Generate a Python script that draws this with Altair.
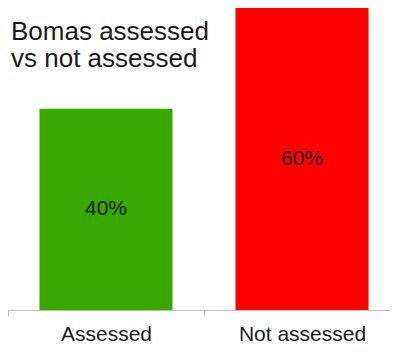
import altair as alt
import pandas as pd

categories = ["Assessed", "Not assessed"]
values = [40, 60]
labels = ["40%", "60%"]
colors = ["#38A800", "#FF0000"]
title_lines = "Bomas assessed\nvs not assessed"

df = pd.DataFrame({"cat": categories, "val": values, "lab": labels})

base = alt.Chart(df)

xscale = alt.Scale(paddingInner=0, paddingOuter=0, range=[0, 392])

bars = base.mark_bar(size=133).encode(
    x=alt.X("cat:N", sort=categories, title=None, scale=xscale,
            axis=alt.Axis(labelAngle=0, tickBand="extent", domainColor="#BFBFBF",
                          tickColor="#BFBFBF", tickSize=6, labelFontSize=21,
                          labelFont="Liberation Sans", labelColor="#1a1a1a",
                          labelPadding=7, domainWidth=1)),
    y=alt.Y("val:Q", axis=None, scale=alt.Scale(domain=[0, 60], nice=False)),
    color=alt.Color("cat:N", scale=alt.Scale(domain=categories, range=colors), legend=None),
)

txt = base.transform_calculate(mid="datum.val / 2").mark_text(
    fontSize=21, font="Liberation Sans", color="#1a1a1a", baseline="middle"
).encode(
    x=alt.X("cat:N", sort=categories, scale=xscale),
    y=alt.Y("mid:Q"),
    text="lab:N",
)

title = alt.Chart(pd.DataFrame({"t": [title_lines]})).mark_text(
    align="left", baseline="top", fontSize=26, font="Liberation Sans",
    color="#1a1a1a", lineBreak="\n", lineHeight=27
).encode(x=alt.value(3), y=alt.value(11), text="t:N")

chart = alt.layer(bars, txt, title).properties(
    width=382, height=302,
    autosize=alt.AutoSizeParams(type="none"),
    padding={"left": 0, "top": 0, "right": 0, "bottom": 44},
).configure_view(stroke=None)

chart.save("out.html", embed_options={"renderer": "svg", "actions": False})
